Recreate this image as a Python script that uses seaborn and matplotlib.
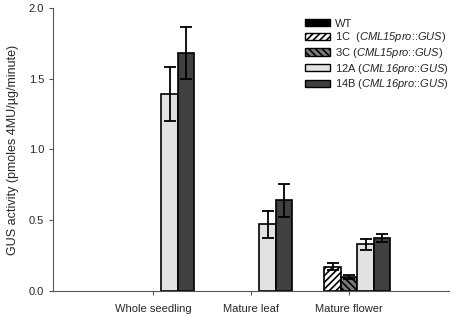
import numpy as np
import pandas as pd
import matplotlib
matplotlib.use("Agg")
import matplotlib.pyplot as plt
from matplotlib.patches import Patch
import seaborn as sns

# data
tissues = ["Whole seedling", "Mature leaf", "Mature flower"]
lines = ["WT", "1C", "3C", "12A", "14B"]
legend_labels = [
    "WT",
    r"1C  ($\mathit{CML15pro}$::$\mathit{GUS}$)",
    r"3C ($\mathit{CML15pro}$::$\mathit{GUS}$)",
    r"12A ($\mathit{CML16pro}$::$\mathit{GUS}$)",
    r"14B ($\mathit{CML16pro}$::$\mathit{GUS}$)",
]
wt = [0.0, 0.0, 0.0]
wt_err = [0.0, 0.0, 0.0]
c1 = [0.0, 0.0, 0.17]
c1_err = [0.0, 0.0, 0.025]
c3 = [0.0, 0.0, 0.10]
c3_err = [0.0, 0.0, 0.015]
a12 = [1.39, 0.47, 0.33]
a12_err = [0.19, 0.095, 0.04]
b14 = [1.68, 0.64, 0.375]
b14_err = [0.185, 0.115, 0.03]

values = [wt, c1, c3, a12, b14]
errors = [wt_err, c1_err, c3_err, a12_err, b14_err]
colors = ["#000000", "#ffffff", "#7a7a7a", "#e2e2e2", "#404040"]
hatches = [None, "/////", "\\\\\\\\\\", None, None]

df = pd.DataFrame({
    "tissue": np.tile(tissues, len(lines)),
    "line": np.repeat(lines, len(tissues)),
    "value": np.concatenate(values),
    "err": np.concatenate(errors),
})

sns.set_style("ticks")
plt.rcParams["font.family"] = ["Liberation Sans", "DejaVu Sans"]
# only the legend uses mathtext, so let digits come out italic too
plt.rcParams["mathtext.fontset"] = "custom"
plt.rcParams["mathtext.it"] = "Liberation Sans:italic"
plt.rcParams["mathtext.rm"] = "Liberation Sans:italic"
plt.rcParams["hatch.linewidth"] = 1.2

fig = plt.figure(figsize=(4.54, 3.17), dpi=100)
ax = fig.add_axes([0.117, 0.082, 0.872, 0.893])

sns.barplot(data=df, x="tissue", y="value", hue="line", order=tissues,
            hue_order=lines, palette=colors, edgecolor="black", linewidth=1.2,
            errorbar=None, width=0.84, legend=False, ax=ax)

bar_groups = list(ax.containers)
for i, cont in enumerate(bar_groups):
    for j, bar in enumerate(cont):
        bar.set_facecolor(colors[i])
        if hatches[i]:
            bar.set_hatch(hatches[i])
        if values[i][j] <= 0:
            bar.set_linewidth(0)
            continue
        x = bar.get_x() + bar.get_width() / 2
        ax.errorbar(x, values[i][j], yerr=errors[i][j], color="black",
                    capsize=4, elinewidth=1.3, capthick=1.3, fmt="none")

ax.set_ylim(0, 2.0)
ax.set_xlim(-1.02, 3.02)
ax.set_yticks([0, 0.5, 1.0, 1.5, 2.0])
ax.set_yticklabels(["0.0", "0.5", "1.0", "1.5", "2.0"])
ax.set_xlabel("")
ax.set_ylabel("GUS activity (pmoles 4MU/µg/minute)", fontsize=9, labelpad=7)
ax.tick_params(axis="both", labelsize=8, length=3, width=0.8, color="#555555")
ax.tick_params(axis="x", pad=6)
for s in ["left", "bottom"]:
    ax.spines[s].set_color("#555555")
    ax.spines[s].set_linewidth(0.8)
sns.despine(ax=ax)

handles = [Patch(facecolor=colors[i], edgecolor="black", hatch=hatches[i],
                 linewidth=1.0) for i in range(len(lines))]
ax.legend(handles, legend_labels, loc="upper left", bbox_to_anchor=(0.636, 0.962),
          frameon=False, fontsize=8, handlelength=2.3, handleheight=0.65,
          labelspacing=0.15, handletextpad=0.4, borderaxespad=0, borderpad=0)

fig.savefig("out.png", dpi=100)
